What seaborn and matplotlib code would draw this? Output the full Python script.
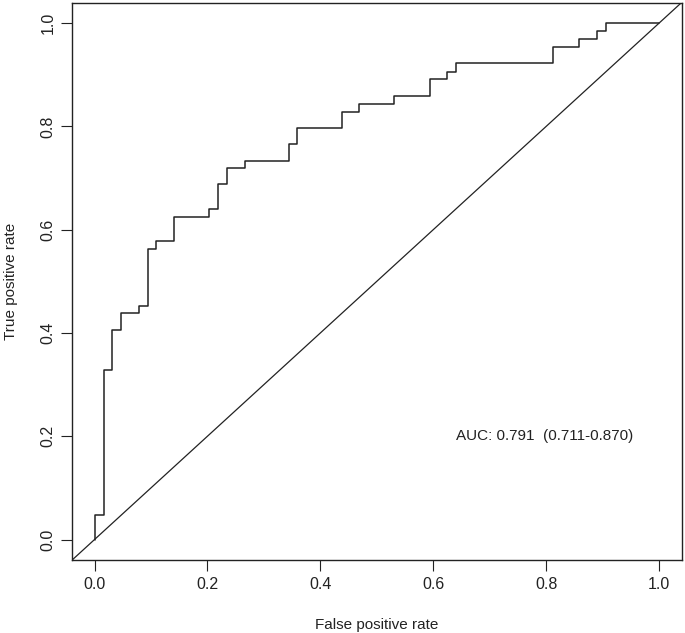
#!/usr/bin/env python3
"""ROC curve with AUC annotation."""

import matplotlib
matplotlib.use("Agg")
import matplotlib.pyplot as plt
import seaborn as sns

# ROC corner points (drawn as steps: vertical first, then horizontal)
fpr = [0.0, 0.016, 0.031, 0.047, 0.078, 0.094, 0.109, 0.141, 0.203, 0.219,
       0.234, 0.266, 0.344, 0.359, 0.438, 0.469, 0.531, 0.594, 0.625, 0.641,
       0.813, 0.859, 0.891, 0.906, 1.0]
tpr = [0.0, 0.047, 0.328, 0.406, 0.438, 0.453, 0.563, 0.578, 0.625, 0.641,
       0.688, 0.719, 0.734, 0.766, 0.797, 0.828, 0.844, 0.859, 0.891, 0.906,
       0.922, 0.953, 0.969, 0.984, 1.0]
ticks = [0.0, 0.2, 0.4, 0.6, 0.8, 1.0]
auc_label = "AUC: 0.791  (0.711-0.870)"


def main():
    sns.set_theme(style="white")
    plt.rcParams["font.family"] = ["Liberation Sans", "DejaVu Sans"]

    fig = plt.figure(figsize=(6.85, 6.33), dpi=100)
    ax = fig.add_axes([0.105, 0.115, 0.890, 0.881])

    sns.lineplot(x=fpr, y=tpr, ax=ax, sort=False, estimator=None,
                 drawstyle="steps-pre", color="#222222", linewidth=1.1)
    ax.axline((0, 0), (1, 1), color="#222222", linewidth=0.9)

    ax.set_xlim(-0.04, 1.04)
    ax.set_ylim(-0.04, 1.04)
    ax.set_xticks(ticks)
    ax.set_yticks(ticks)
    ax.set_xticklabels([f"{t:.1f}" for t in ticks])
    ax.set_yticklabels([f"{t:.1f}" for t in ticks], rotation=90, va="center")
    ax.tick_params(axis="both", direction="out", length=8, width=0.8,
                   labelsize=11.5, color="#222222", labelcolor="#222222",
                   bottom=True, left=True, pad=4)
    for s in ax.spines.values():
        s.set_color("#222222")
        s.set_linewidth(1.0)

    ax.set_xlabel("False positive rate", fontsize=11, color="#222222", labelpad=19)
    ax.set_ylabel("True positive rate", fontsize=11, color="#222222", labelpad=16)

    ax.text(0.64, 0.2, auc_label, fontsize=11, color="#222222",
            ha="left", va="center")

    fig.savefig("out.png", dpi=100)
    plt.close(fig)


if __name__ == "__main__":
    main()
